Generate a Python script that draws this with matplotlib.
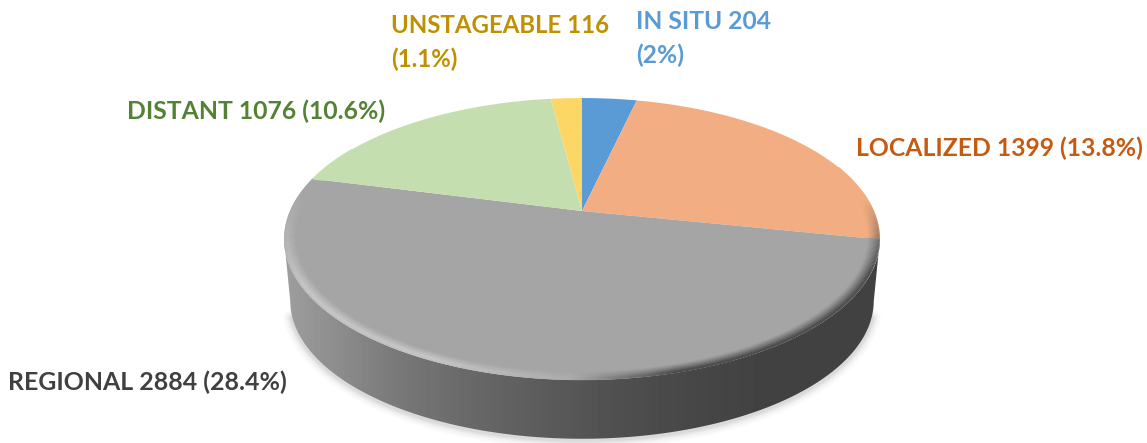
import numpy as np
import matplotlib
matplotlib.use("Agg")
import matplotlib.pyplot as plt
from matplotlib.collections import LineCollection
from matplotlib.colors import to_rgb
from matplotlib.patches import PathPatch
from matplotlib.path import Path
from matplotlib.transforms import Transform

categories = ["IN SITU", "LOCALIZED", "REGIONAL", "DISTANT", "UNSTAGEABLE"]
counts = [204, 1399, 2884, 1076, 116]
percents = ["2%", "13.8%", "28.4%", "10.6%", "1.1%"]
wedge_colors = ["#5B9BD5", "#F2AE82", "#A5A5A5", "#C5DEB0", "#FCD766"]
label_colors = ["#5B9BD5", "#C55A11", "#404040", "#548235", "#BF9000"]
label_breaks = [True, False, False, False, True]
label_xy = [(636, 21), (856, 148), (8, 382), (127, 111), (391, 25)]
label_sizes = [17.7, 17.8, 17.9, 17.8, 17.3]

APEX_X, APEX_Y = 582.0, 211.0
K, AY, AX = 0.1986, 135.4, 292.0


def project(u, v):
    d = 1 + K * v
    return APEX_X + AX * u / d, APEX_Y - AY * v / d


class Projection(Transform):
    input_dims = output_dims = 2
    is_separable = False
    has_inverse = False

    def transform_non_affine(self, values):
        values = np.asarray(values, float)
        x, y = project(values[:, 0], values[:, 1])
        return np.column_stack([x, y])

    def transform_path_non_affine(self, path):
        t = np.linspace(0, 1, 24)
        pts = []
        for curve, code in path.iter_bezier():
            if code == Path.MOVETO:
                pts.append(curve.control_points[:1])
            else:
                pts.append(curve(t)[1:])
        return Path(self.transform_non_affine(np.vstack(pts)), closed=True)


fig = plt.figure(figsize=(11.47, 4.43), dpi=100)
ax = fig.add_axes([0, 0, 1, 1])

wedges, _ = ax.pie(counts, colors=wedge_colors, startangle=90, counterclock=False, radius=1)
for w in wedges:
    w.set_transform(Projection() + ax.transData)
    w.set_zorder(5)
    w.set_linewidth(0)

# side wall: spans the two horizontal extremes of the rim
theta = np.radians(np.linspace(101.45, 258.55, 300))
tx, ty = project(np.sin(theta), np.cos(theta))
bx, by = project(0.98 * np.sin(theta), 0.98 * np.cos(theta))
by = by + 63
wall_xy = np.vstack([np.column_stack([tx, ty]), np.column_stack([bx, by])[::-1]])
wall_path = Path(np.vstack([wall_xy, wall_xy[:1]]), closed=True)

# soft drop shadow under the lower outline only
for lw, a in zip([13, 10, 7, 5, 3], [0.02, 0.025, 0.03, 0.035, 0.04]):
    ax.plot(bx[12:-12], by[12:-12] + 1, color="black", alpha=a, lw=lw, zorder=1, solid_capstyle="round")

gx = np.arange(280, 885)
stop_x = [285, 330, 400, 470, 540, 620, 700, 760, 880]
stop_v = [0.62, 0.56, 0.47, 0.41, 0.36, 0.31, 0.275, 0.26, 0.255]
grad = np.interp(gx, stop_x, stop_v)[None, :]
im = ax.imshow(grad, cmap="gray", vmin=0, vmax=1, aspect="auto", extent=(280, 885, 443, 90), zorder=2)
im.set_clip_path(PathPatch(wall_path, transform=ax.transData))

ax.set_aspect("auto")
ax.set_xlim(0, 1147)
ax.set_ylim(443, 0)
ax.axis("off")

# bevel around the front rim
def ramp(x, a, b):
    return np.clip((x - a) / (b - a), 0, 1)

bounds = np.cumsum([0] + counts) / sum(counts) * 360
dark = np.array(to_rgb("#404040"))
light = np.array(to_rgb("#C8C8C8"))
segs, cols = [], []
angles = np.linspace(70, 300, 470)
R0 = 0.96
for r in np.arange(R0, 0.9985, 0.004):
    for a0, a1 in zip(angles[:-1], angles[1:]):
        mid = 0.5 * (a0 + a1)
        idx = min(np.searchsorted(bounds, mid) - 1, len(counts) - 1)
        base = np.array(to_rgb(wedge_colors[idx]))
        s_dark = ramp(mid, 85, 115) * (1 - ramp(mid, 165, 182))
        s_light = ramp(mid, 176, 205) * (1 - ramp(mid, 240, 278))
        t = (r - R0) / (1 - R0)
        prof_dark = t ** 1.2
        prof_light = min(t / 0.8, 1.0) if t < 0.8 else 1 - 0.3 * (t - 0.8) / 0.2
        c = base * (1 - s_dark * prof_dark) + dark * (s_dark * prof_dark)
        c = c * (1 - s_light * prof_light) + light * (s_light * prof_light)
        ra = np.radians([a0, a1])
        x, y = project(r * np.sin(ra), r * np.cos(ra))
        segs.append(np.column_stack([x, y]))
        cols.append(c)
ax.add_collection(LineCollection(segs, colors=cols, linewidths=1.6, zorder=6, capstyle="butt"))

# labels
for name, n, p, col, brk, (lx, ly), fs in zip(categories, counts, percents, label_colors,
                                              label_breaks, label_xy, label_sizes):
    if brk:
        ax.text(lx, ly, f"{name} {n}", color=col, fontsize=fs, fontweight="bold",
                family="Lato", va="center", ha="left", zorder=10)
        ax.text(lx, ly + 34, f"({p})", color=col, fontsize=fs, fontweight="bold",
                family="Lato", va="center", ha="left", zorder=10)
    else:
        ax.text(lx, ly, f"{name} {n} ({p})", color=col, fontsize=fs, fontweight="bold",
                family="Lato", va="center", ha="left", zorder=10)

fig.savefig("out.png", dpi=100, facecolor="white")
